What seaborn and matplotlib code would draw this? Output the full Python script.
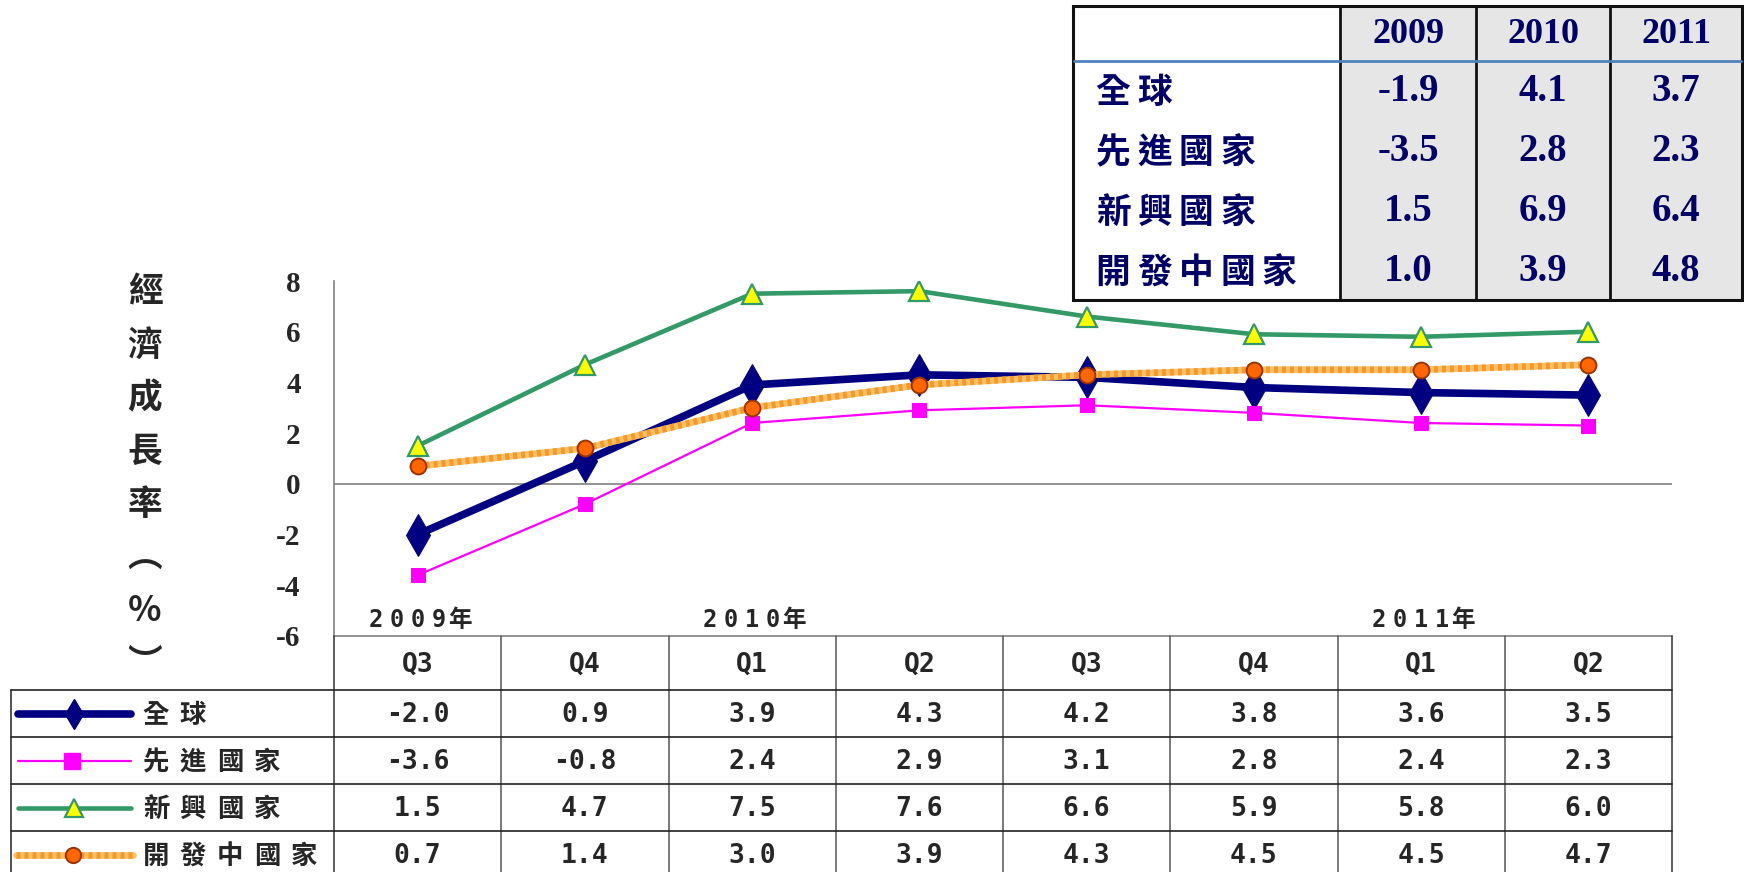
import matplotlib
matplotlib.use('Agg')
import matplotlib.pyplot as plt
from matplotlib.patches import Rectangle
import numpy as np
import seaborn as sns

# Quarterly growth (%), 2009Q3 - 2011Q2
quarters = ["Q3", "Q4", "Q1", "Q2", "Q3", "Q4", "Q1", "Q2"]
year_labels = ["2009年", "", "2010年", "", "", "", "2011年", ""]
series_names = ["全球", "先進國家", "新興國家", "開發中國家"]
world = [-2.0, 0.9, 3.9, 4.3, 4.2, 3.8, 3.6, 3.5]
advanced = [-3.6, -0.8, 2.4, 2.9, 3.1, 2.8, 2.4, 2.3]
emerging = [1.5, 4.7, 7.5, 7.6, 6.6, 5.9, 5.8, 6.0]
developing = [0.7, 1.4, 3.0, 3.9, 4.3, 4.5, 4.5, 4.7]

# Annual growth (%) table, top right
annual_years = ["2009", "2010", "2011"]
annual_world = [-1.9, 4.1, 3.7]
annual_advanced = [-3.5, 2.8, 2.3]
annual_emerging = [1.5, 6.9, 6.4]
annual_developing = [1.0, 3.9, 4.8]

y_ticks = [-6, -4, -2, 0, 2, 4, 6, 8]
y_label = "經濟成長率︵%︶"

W, H = 1744, 872
NAVY = "#000080"
CJK = ["Noto Sans CJK TC", "DejaVu Sans"]
MONO = ["DejaVu Sans Mono", "Noto Sans CJK TC"]

sns.set_style("white")
plt.rcParams["font.family"] = CJK
plt.rcParams["axes.unicode_minus"] = False

fig = plt.figure(figsize=(W / 100, H / 100), dpi=100)

# pixel layout
ax_l, ax_r, ax_t, ax_b = 334, 1672, 281, 636
ax = fig.add_axes([ax_l / W, 1 - ax_b / H, (ax_r - ax_l) / W, (ax_b - ax_t) / H])
x = np.arange(len(quarters))

sns.lineplot(x=x, y=world, ax=ax, color=NAVY, lw=5.5, marker="d", markersize=21,
             markeredgecolor=NAVY, zorder=3)
sns.lineplot(x=x, y=advanced, ax=ax, color="#FF00FF", lw=1.6, marker="s", markersize=10,
             markeredgecolor="#FF00FF", zorder=3)
sns.lineplot(x=x, y=emerging, ax=ax, color="#339966", lw=3.3, marker="^", markersize=15,
             markerfacecolor="#FFFF00", markeredgecolor="#339966", markeredgewidth=1.6, zorder=3)
sns.lineplot(x=x, y=developing, ax=ax, color="#FDC068", lw=4.8, zorder=4)
sns.lineplot(x=x, y=developing, ax=ax, color="#F39A2A", lw=4.8, linestyle=(0, (0.6, 0.6)), zorder=4)
sns.scatterplot(x=x, y=developing, ax=ax, marker="o", s=130, color="#FF6600",
                edgecolor="#993300", linewidth=1.4, zorder=5)

ax.axhline(0, color="#808080", lw=1.2, zorder=1)
ax.set_xlim(-0.5, len(quarters) - 0.5)
ax.set_ylim(-6, 8)
ax.set_xticks([])
ax.set_yticks(y_ticks)
ax.set_xlabel("")
ax.set_ylabel("")
ax.tick_params(axis="y", direction="in", length=7, width=1.2, color="#808080", pad=24)
for lab in ax.get_yticklabels():
    lab.set_fontfamily("Liberation Serif")
    lab.set_fontweight("bold")
    lab.set_fontsize(21)
for s in ["top", "right"]:
    ax.spines[s].set_visible(False)
for s in ["left", "bottom"]:
    ax.spines[s].set_color("#808080")
    ax.spines[s].set_linewidth(1.2)

# overlay canvas in pixel coordinates for tables and the vertical axis title
cv = fig.add_axes([0, 0, 1, 1], zorder=10)
cv.patch.set_visible(False)
cv.set_xlim(0, W)
cv.set_ylim(H, 0)
cv.axis("off")


def spaced(x0, y, s, step, **kw):
    # draw characters one by one with a fixed advance (wide letter spacing)
    for i, ch in enumerate(s):
        cv.text(x0 + i * step, y, ch, ha="center", va="center", **kw)


for i, ch in enumerate(y_label):
    cv.text(145, 292 + i * 53, ch, ha="center", va="center", fontsize=25, fontweight="heavy")

col_w = (ax_r - ax_l) / len(quarters)

for i, yl in enumerate(year_labels):
    if yl:
        cx = ax_l + (i + 0.5) * col_w
        step = 21
        spaced(cx - step * (len(yl) - 1) / 2, 620, yl, step, fontsize=17, fontweight="bold",
               family=MONO)

# ---- bottom data table ----
row_top = 690
row_h = 47
tbl_left = 11
for k in range(len(quarters) + 1):
    xx = ax_l + k * col_w
    cv.plot([xx, xx], [ax_b, H], color="#555555" if 0 < k < len(quarters) else "#333333", lw=1.1)
cv.plot([tbl_left, tbl_left], [row_top, H], color="#333333", lw=1.2)
for r in range(4):
    yy = row_top + r * row_h
    cv.plot([tbl_left, ax_r], [yy, yy], color="#222222", lw=1.2)

for k, q in enumerate(quarters):
    cv.text(ax_l + (k + 0.5) * col_w, (ax_b + row_top) / 2 + 2, q, ha="center", va="center",
            fontsize=19, fontweight="bold", family=MONO)

rows = [world, advanced, emerging, developing]
for r, (name, vals) in enumerate(zip(series_names, rows)):
    yc = row_top + (r + 0.5) * row_h
    for k, v in enumerate(vals):
        cv.text(ax_l + (k + 0.5) * col_w, yc + 1, f"{v:.1f}", ha="center", va="center",
                fontsize=19, fontweight="bold", family=MONO)
    spaced(156, yc + 2, name, 37, fontsize=19, fontweight="heavy")

# legend icons
ly = [row_top + (r + 0.5) * row_h for r in range(4)]
cv.plot([18, 131], [ly[0], ly[0]], color=NAVY, lw=5.5, solid_capstyle="round")
cv.plot([74], [ly[0]], marker="d", markersize=15, color=NAVY)
cv.plot([18, 131], [ly[1], ly[1]], color="#FF00FF", lw=1.6)
cv.plot([72], [ly[1]], marker="s", markersize=11, color="#FF00FF")
cv.plot([18, 131], [ly[2], ly[2]], color="#339966", lw=3.3, solid_capstyle="round")
cv.plot([74], [ly[2]], marker="^", markersize=13, markerfacecolor="#FFFF00",
        markeredgecolor="#339966", markeredgewidth=1.6)
cv.plot([16, 133], [ly[3], ly[3]], color="#FDC068", lw=4.8)
cv.plot([16, 133], [ly[3], ly[3]], color="#F39A2A", lw=4.8, linestyle=(0, (0.6, 0.6)))
cv.plot([73], [ly[3]], marker="o", markersize=11, markerfacecolor="#FF6600",
        markeredgecolor="#993300", markeredgewidth=1.4)

# ---- top right annual table ----
t_l, t_t, t_b, t_r = 1073, 6, 300, 1742
t_cols = [1073, 1340, 1476, 1610, 1742]
t_head = 61
cv.add_patch(Rectangle((t_l, t_t), t_cols[1] - t_l, t_b - t_t, facecolor="white", edgecolor="none"))
cv.add_patch(Rectangle((t_cols[1], t_t), t_r - t_cols[1], t_b - t_t, facecolor="#E6E6E6",
                       edgecolor="none"))
cv.add_patch(Rectangle((t_l, t_t), t_r - t_l, t_b - t_t, facecolor="none", edgecolor="#111111",
                       lw=2.2))
for xx in t_cols[1:-1]:
    cv.plot([xx, xx], [t_t, t_b], color="#111111", lw=2.0)
cv.plot([t_l + 1, t_r - 1], [t_head, t_head], color="#4F81BD", lw=2.0)

t_row_h = (t_b - t_head) / 4
for j, yr in enumerate(annual_years):
    cv.text((t_cols[j + 1] + t_cols[j + 2]) / 2, (t_t + t_head) / 2 + 1, yr, ha="center",
            va="center", fontsize=26, fontweight="bold", family="Liberation Serif", color="#000066")
annual_rows = [annual_world, annual_advanced, annual_emerging, annual_developing]
for r, (name, vals) in enumerate(zip(series_names, annual_rows)):
    yc = t_head + (r + 0.5) * t_row_h
    spaced(1113, yc + 2, name, 41.5, fontsize=25, fontweight="heavy", color="#000066")
    for j, v in enumerate(vals):
        cv.text((t_cols[j + 1] + t_cols[j + 2]) / 2, yc + 1, f"{v:.1f}", ha="center",
                va="center", fontsize=28, fontweight="bold", family="Liberation Serif",
                color="#000066")

fig.savefig("out.png", dpi=100)
